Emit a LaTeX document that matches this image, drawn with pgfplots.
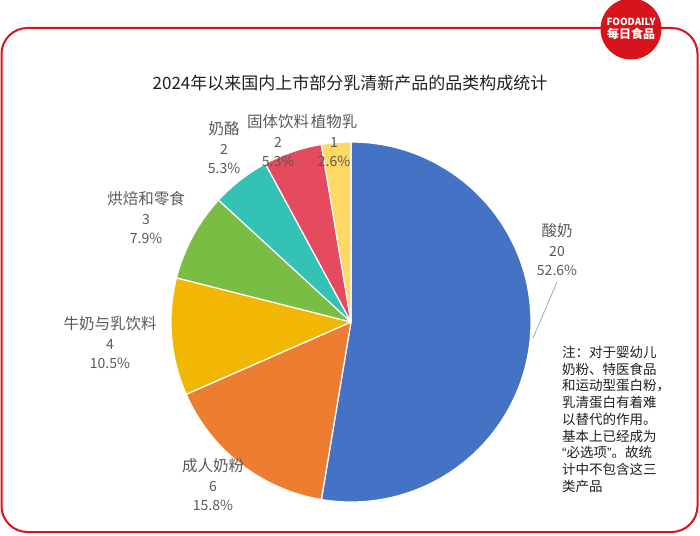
\documentclass[border=0pt]{standalone}
\usepackage{pgfplots}
\pgfplotsset{compat=1.18}
\usepackage{pgfplotstable}
\usepackage{fontspec}
\setmainfont{Noto Sans CJK SC}
\newfontfamily\lat{Liberation Sans}
\definecolor{cBlue}{HTML}{4472C4}
\definecolor{cOrange}{HTML}{ED7D31}
\definecolor{cGold}{HTML}{F2B705}
\definecolor{cGreen}{HTML}{7ABD44}
\definecolor{cTeal}{HTML}{33C2B5}
\definecolor{cRed}{HTML}{E54A5E}
\definecolor{cLight}{HTML}{FFD966}
\definecolor{frameRed}{HTML}{D7141C}
\definecolor{lblGray}{HTML}{595959}
\pgfplotstableread{
value color
20 cBlue
6 cOrange
4 cGold
3 cGreen
2 cTeal
2 cRed
1 cLight
}\piedata
\newcommand\lbl[5]{\node[align=center, text=lblGray, inner sep=0pt, font=\fontsize{14}{19.5}\selectfont] at (#1pt,{535pt-#2pt})
  {{\fontsize{15.5}{19.5}\selectfont #3}\\#4\\#5};}
\begin{document}
\begin{tikzpicture}
\useasboundingbox (0,0) rectangle (700pt,535pt);
% frame
\draw[frameRed, line width=2pt, rounded corners=26pt] (1.5pt,3pt) rectangle (697.5pt,507pt);
\begin{axis}[x=1pt, y=1pt, xmin=0, xmax=700, ymin=0, ymax=535, hide axis, clip=false, anchor=south west, at={(0,0)}]
\pgfplotstablegetrowsof{\piedata}
\pgfmathtruncatemacro\nlast{\pgfplotsretval-1}
\def\total{0}
\pgfplotsforeachungrouped \i in {0,...,\nlast}{%
  \pgfplotstablegetelem{\i}{value}\of\piedata
  \pgfmathsetmacro\total{\total+\pgfplotsretval}%
}
\def\cum{0}
\pgfplotsforeachungrouped \i in {0,...,\nlast}{%
  \pgfplotstablegetelem{\i}{value}\of\piedata \let\val\pgfplotsretval
  \pgfplotstablegetelem{\i}{color}\of\piedata \let\col\pgfplotsretval
  \pgfmathsetmacro\aa{90-\cum*360/\total}%
  \pgfmathsetmacro\bb{90-(\cum+\val)*360/\total}%
  \pgfmathsetmacro\cum{\cum+\val}%
  \edef\cmd{\noexpand\fill[fill=\col, draw=white, line width=1.2pt, line join=round] (axis cs:351,213) -- (axis cs:{351+180*cos(\aa)},{213+180*sin(\aa)}) arc[start angle=\aa, end angle=\bb, radius=180pt] -- cycle;}%
  \cmd
}
\end{axis}
% leader line
\draw[color=black!35, line width=0.8pt] (557pt,253pt) -- (533pt,197pt);
% labels
\lbl{557}{250}{酸奶}{20}{52.6\%}
\lbl{213}{485}{成人奶粉}{6}{15.8\%}
\lbl{110}{343}{牛奶与乳饮料}{4}{10.5\%}
\lbl{146}{218}{烘焙和零食}{3}{7.9\%}
\lbl{224}{148}{奶酪}{2}{5.3\%}
\lbl{278}{141}{固体饮料}{2}{5.3\%}
\lbl{334}{141}{植物乳}{1}{2.6\%}
% title
\node[text=black!88, inner sep=0pt] at (350pt,452pt) {\fontsize{17}{20}\selectfont 2024年以来国内上市部分乳清新产品的品类构成统计};
% note
\node[anchor=north west, align=left, inner sep=0pt, text=black!88, font=\fontsize{13.5}{16.7}\selectfont] at (562pt,189pt)
 {注：对于婴幼儿\\奶粉、特医食品\\和运动型蛋白粉，\\乳清蛋白有着难\\以替代的作用。\\基本上已经成为\\{\lat “}必选项{\lat ”}。故统\\计中不包含这三\\类产品};
% logo
\fill[frameRed] (631pt,506pt) circle (30.5pt);
\node[text=white, inner sep=0pt] at (631pt,513pt) {\fontsize{9.8}{12}\selectfont\bfseries FOODAILY};
\node[text=white, inner sep=0pt] at (631pt,501pt) {\fontsize{12}{13}\selectfont\bfseries 每日食品};
\end{tikzpicture}
\end{document}
